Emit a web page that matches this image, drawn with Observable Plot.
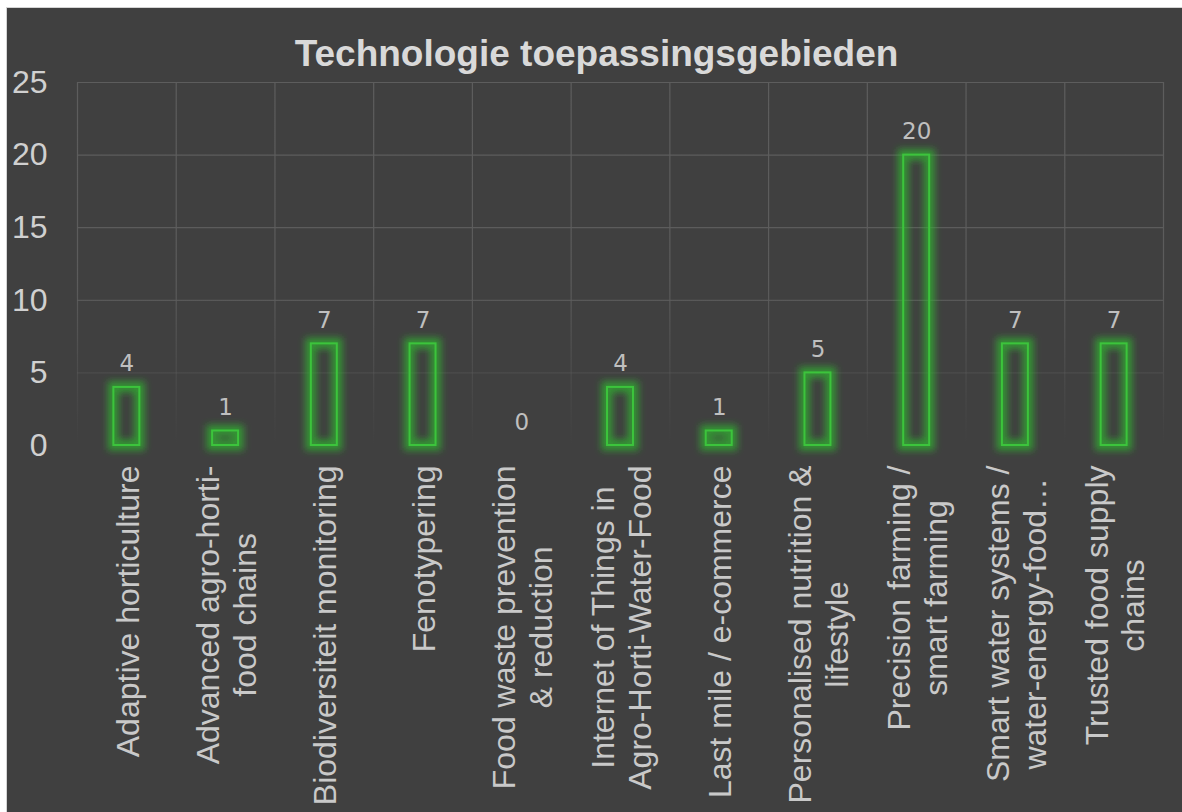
<!DOCTYPE html>
<html><head><meta charset="utf-8">
<script src="https://cdn.jsdelivr.net/npm/d3@7"></script>
<script src="https://cdn.jsdelivr.net/npm/@observablehq/plot@0.6"></script>
<style>
html,body{margin:0;padding:0;background:#fff;overflow:hidden;}
#chart{position:absolute;left:6px;top:7px;width:1200px;height:830px;background:#404040;border:1px solid #d4d4d4;}
#title{position:absolute;left:2px;top:27px;width:1175px;text-align:center;font:bold 37px "Liberation Sans",Arial,sans-serif;line-height:37px;color:#d9d9d9;}
#plot{position:absolute;left:0;top:0;}
</style></head><body>
<div id="chart"><div id="plot"></div><div id="title">Technologie toepassingsgebieden</div></div>
<script>
const categories = [
  "Adaptive horticulture",
  "Advanced agro-horti-food chains",
  "Biodiversiteit monitoring",
  "Fenotypering",
  "Food waste prevention & reduction",
  "Internet of Things in Agro-Horti-Water-Food",
  "Last mile / e-commerce",
  "Personalised nutrition & lifestyle",
  "Precision farming / smart farming",
  "Smart water systems / water-energy-food…",
  "Trusted food supply chains"
];
const labels = [
  "Adaptive horticulture",
  "Advanced agro-horti-\nfood chains",
  "Biodiversiteit monitoring",
  "Fenotypering",
  "Food waste prevention\n& reduction",
  "Internet of Things in\nAgro-Horti-Water-Food",
  "Last mile / e-commerce",
  "Personalised nutrition &\nlifestyle",
  "Precision farming /\nsmart farming",
  "Smart water systems /\nwater-energy-food…",
  "Trusted food supply\nchains"
];
const values = [4, 1, 7, 7, 0, 4, 1, 5, 20, 7, 7];
const yTicks = [0, 5, 10, 15, 20, 25];

const data = categories.map((c, i) => ({category: c, value: values[i], label: labels[i]}));

const W = 1175, H = 804, mL = 70, mR = 19, mT = 74, mB = 367;
const step = (W - mL - mR) / categories.length;
const pad = 0.737;

const ctx = document.createElement("canvas").getContext("2d");
ctx.font = "32px 'Liberation Sans'";
const labelMarks = data.map(d => {
  const w = Math.max(...d.label.split("\n").map(s => ctx.measureText(s).width));
  return Plot.text([d], {
    x: "category", text: "label", frameAnchor: "bottom", rotate: -90,
    textAnchor: "middle", lineAnchor: "middle", lineHeight: 1.15,
    dy: 20 + w / 2, fontSize: 32, fill: "#c9c9c9"
  });
});

const bars = data.filter(d => d.value > 0);

const plot = Plot.plot({
  width: W, height: H,
  marginLeft: mL, marginRight: mR, marginTop: mT, marginBottom: mB,
  style: {background: "transparent", color: "#d9d9d9", fontFamily: "'Liberation Sans', Arial, sans-serif", fontSize: "32px", overflow: "visible"},
  x: {domain: categories, paddingInner: pad, paddingOuter: pad / 2, round: false, axis: null},
  y: {domain: [0, 25], axis: null},
  marks: [
    Plot.ruleY(yTicks, {stroke: "#5d5d5d", strokeWidth: 1.2}),
    Plot.ruleX(categories, {dx: -step / 2, stroke: "#5d5d5d", strokeWidth: 1.2}),
    Plot.ruleX([categories[categories.length - 1]], {dx: step / 2, stroke: "#5d5d5d", strokeWidth: 1.2}),
    Plot.barY(bars, {x: "category", y: "value", fill: "none", stroke: "#2fb82f", strokeWidth: 11, strokeOpacity: 0.7}),
    Plot.barY(bars, {x: "category", y: "value", fill: "none", stroke: "#3cc43c", strokeWidth: 2}),
    Plot.text(data, {x: "category", y: "value", text: d => String(d.value), dy: -16, lineAnchor: "bottom", fontFamily: "'DejaVu Sans', sans-serif", fontSize: 23, fill: "#bfbfbf"}),
    ...labelMarks,
    Plot.axisY({ticks: yTicks, tickSize: 0, tickPadding: 30, fontSize: 32, label: null, color: "#d0d0d0"})
  ]
});

const svg = d3.select(plot);
const defs = svg.insert("defs", ":first-child");
const f = defs.append("filter").attr("id", "glow").attr("x", "-60%").attr("y", "-60%").attr("width", "220%").attr("height", "220%");
f.append("feGaussianBlur").attr("stdDeviation", 3.5);
const g = defs.append("linearGradient").attr("id", "gridfade").attr("gradientUnits", "userSpaceOnUse")
  .attr("x1", 0).attr("x2", 0).attr("y1", mT).attr("y2", H - mB);
[[0, 1], [0.55, 0.95], [0.8, 0.4], [1, 0]].forEach(([o, a]) =>
  g.append("stop").attr("offset", o).attr("stop-color", "#5d5d5d").attr("stop-opacity", a));
svg.selectAll('g[aria-label="rule"]').attr("stroke", "url(#gridfade)");
svg.selectAll('g[aria-label="bar"]').filter((d, i) => i === 0).attr("filter", "url(#glow)");

document.getElementById("plot").append(plot);
</script>
</body></html>
